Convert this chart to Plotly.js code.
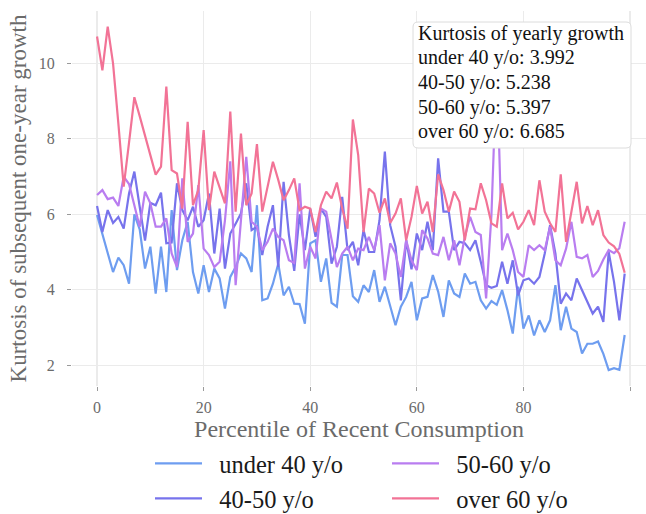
<!DOCTYPE html>
<html>
<head>
<meta charset="utf-8">
<script src="https://cdn.plot.ly/plotly-3.0.1.min.js"></script>
<style>
  html, body { margin: 0; padding: 0; background: #ffffff; }
  #chart { width: 646px; height: 514px; }
</style>
</head>
<body>
<div id="chart"></div>
<script>
// Percentile bins of recent consumption
const percentile = [
  0, 1, 2, 3, 4, 5, 6, 7, 8, 9, 10, 11, 12, 13, 14, 15, 16, 17, 18, 19,
  20, 21, 22, 23, 24, 25, 26, 27, 28, 29, 30, 31, 32, 33, 34, 35, 36, 37, 38, 39,
  40, 41, 42, 43, 44, 45, 46, 47, 48, 49, 50, 51, 52, 53, 54, 55, 56, 57, 58, 59,
  60, 61, 62, 63, 64, 65, 66, 67, 68, 69, 70, 71, 72, 73, 74, 75, 76, 77, 78, 79,
  80, 81, 82, 83, 84, 85, 86, 87, 88, 89, 90, 91, 92, 93, 94, 95, 96, 97, 98, 99
];

// Kurtosis of subsequent one-year growth, by age group
const under40 = [
  5.98, 5.49, 4.96, 4.47, 4.85, 4.65, 4.16, 6.00, 5.60, 4.56,
  5.14, 3.90, 5.14, 3.94, 6.11, 4.52, 5.31, 5.80, 4.47, 3.90,
  4.65, 3.94, 4.56, 4.30, 3.50, 4.34, 4.60, 4.96, 4.83, 4.47,
  6.24, 3.72, 3.77, 4.16, 4.69, 3.85, 4.08, 3.63, 3.62, 3.10,
  5.23, 5.31, 4.21, 4.83, 3.65, 3.55, 4.92, 4.92, 3.83, 3.68,
  4.12, 3.94, 4.52, 3.68, 4.08, 3.59, 3.06, 3.55, 3.81, 4.21,
  3.19, 3.77, 3.81, 4.39, 3.95, 3.28, 4.25, 3.90, 3.81, 4.43,
  4.16, 4.21, 3.72, 3.50, 3.70, 3.60, 3.99, 3.46, 2.84, 4.08,
  2.97, 3.32, 2.79, 3.19, 2.88, 3.19, 4.12, 2.93, 3.55, 2.97,
  2.88, 2.31, 2.57, 2.57, 2.63, 2.30, 1.87, 1.92, 1.88, 2.80
];
const age40to50 = [
  6.22, 5.53, 6.11, 5.77, 5.93, 5.62, 6.55, 7.13, 6.20, 5.30,
  6.30, 6.24, 6.57, 5.23, 5.25, 6.82, 6.11, 5.84, 6.20, 5.67,
  5.84, 6.55, 4.96, 6.15, 4.56, 5.49, 5.75, 6.02, 6.82, 5.58,
  5.67, 4.92, 5.67, 6.24, 4.60, 6.86, 5.45, 4.50, 6.00, 5.05,
  6.15, 5.40, 6.15, 5.93, 4.69, 5.14, 6.46, 5.05, 5.27, 4.65,
  5.58, 5.00, 5.00, 5.84, 7.66, 5.71, 5.14, 3.72, 5.31, 4.54,
  5.49, 5.05, 5.80, 5.05, 7.48, 6.07, 6.07, 5.05, 5.27, 5.23,
  5.05, 5.31, 4.74, 4.12, 4.05, 4.10, 4.74, 4.16, 4.78, 3.85,
  4.25, 4.30, 4.16, 4.34, 4.96, 5.71, 4.96, 3.63, 3.90, 3.72,
  4.30, 3.99, 3.68, 3.37, 3.55, 3.15, 5.00, 4.21, 3.19, 4.43
];
const age50to60 = [
  6.51, 6.64, 6.40, 6.44, 6.22, 7.00, 6.80, 6.20, 5.67, 6.60,
  6.29, 5.67, 5.67, 5.89, 4.96, 4.60, 6.95, 5.27, 5.49, 6.77,
  5.09, 4.92, 4.60, 4.74, 5.84, 7.40, 4.12, 5.84, 7.52, 5.80,
  5.67, 5.05, 5.27, 5.62, 5.40, 5.31, 4.78, 4.71, 6.82, 4.56,
  5.14, 4.83, 6.15, 6.07, 5.31, 4.60, 4.96, 5.14, 4.78, 5.09,
  5.05, 5.40, 5.05, 5.71, 4.25, 5.23, 4.96, 4.34, 5.31, 4.78,
  4.52, 5.58, 5.36, 4.96, 4.92, 5.40, 4.78, 5.31, 4.65, 5.40,
  5.93, 5.53, 5.45, 3.77, 5.98, 10.00, 5.05, 5.49, 5.05, 4.47,
  4.34, 5.18, 5.05, 5.18, 5.05, 5.67, 4.78, 4.65, 5.09, 5.80,
  4.87, 4.83, 4.92, 4.34, 4.50, 4.80, 5.05, 4.97, 5.10, 5.80
];
const over60 = [
  10.71, 9.81, 10.97, 10.00, 8.40, 6.73, 7.90, 9.10, 8.60, 8.10,
  7.60, 7.05, 7.26, 9.38, 7.17, 7.08, 6.15, 8.45, 6.24, 6.64,
  8.23, 6.11, 7.13, 6.73, 6.29, 8.72, 6.07, 8.14, 6.24, 6.55,
  7.86, 6.07, 6.73, 7.39, 6.91, 6.37, 6.64, 6.95, 6.11, 6.20,
  6.15, 5.53, 6.24, 6.60, 6.42, 6.84, 6.15, 5.62, 8.51, 7.57,
  5.53, 6.68, 6.55, 6.04, 6.42, 5.77, 6.02, 6.42, 5.31, 5.93,
  6.75, 6.02, 6.33, 5.53, 7.06, 6.64, 6.07, 6.60, 6.33, 5.31,
  6.15, 6.13, 6.82, 6.37, 5.76, 5.67, 6.82, 5.89, 6.04, 5.60,
  5.80, 6.11, 5.71, 6.90, 6.07, 5.76, 5.53, 7.06, 5.27, 6.02,
  6.86, 5.76, 6.22, 5.71, 6.11, 5.45, 5.25, 5.15, 4.95, 4.45
];

const seriesNames = ['under 40 y/o', '40-50 y/o', '50-60 y/o', 'over 60 y/o'];
const seriesValues = [under40, age40to50, age50to60, over60];
const kurtosisOfYearlyGrowth = [3.992, 5.238, 5.397, 6.685];
const boxTitle = 'Kurtosis of yearly growth';

const xTickValues = [0, 20, 40, 60, 80, 100];
const xTickLabels = ['0', '20', '40', '60', '80', ''];
const yTickValues = [2, 4, 6, 8, 10];

// Styling
const lineColors = ['#6E9DF0', '#7773EC', '#B97DF0', '#F27396'];
// legend is filled row by row, so rank entries to read column-wise
const legendRanks = [1, 3, 2, 4];
const FONT = 'Liberation Serif, Times New Roman, serif';
const W = 646, H = 514;
const M = { l: 72, r: 0, t: 11, b: 128, autoexpand: false };
const plotW = W - M.l - M.r, plotH = H - M.t - M.b;
const NBSP = '\u00A0';

const traces = seriesValues.map((vals, i) => ({
  type: 'scatter',
  mode: 'lines',
  x: percentile,
  y: vals,
  name: NBSP + NBSP + seriesNames[i],
  legendrank: legendRanks[i],
  line: { color: lineColors[i], width: 2.2 },
  hoverinfo: 'skip'
}));

// pixel -> paper helpers for the rounded text box
const px2x = px => (px - M.l) / plotW;
const py2y = py => (H - M.b - py) / plotH;
function roundedBox(x0, y0, x1, y1, r) {
  const X = px2x, Y = py2y;
  return 'M' + X(x0 + r) + ',' + Y(y0) +
    ' L' + X(x1 - r) + ',' + Y(y0) +
    ' Q' + X(x1) + ',' + Y(y0) + ' ' + X(x1) + ',' + Y(y0 + r) +
    ' L' + X(x1) + ',' + Y(y1 - r) +
    ' Q' + X(x1) + ',' + Y(y1) + ' ' + X(x1 - r) + ',' + Y(y1) +
    ' L' + X(x0 + r) + ',' + Y(y1) +
    ' Q' + X(x0) + ',' + Y(y1) + ' ' + X(x0) + ',' + Y(y1 - r) +
    ' L' + X(x0) + ',' + Y(y0 + r) +
    ' Q' + X(x0) + ',' + Y(y0) + ' ' + X(x0 + r) + ',' + Y(y0) + ' Z';
}

// one annotation per text line so the line spacing is fixed
const boxLines = [boxTitle].concat(
  seriesNames.map((n, i) => n + ': ' + kurtosisOfYearlyGrowth[i].toFixed(3)));
const boxLineY = [33.5, 58, 82.5, 107, 131.5];
const boxAnnotations = boxLines.map((t, i) => ({
  xref: 'paper',
  yref: 'paper',
  x: px2x(416),
  y: py2y(boxLineY[i]),
  xanchor: 'left',
  yanchor: 'middle',
  align: 'left',
  showarrow: false,
  text: t,
  font: { family: FONT, size: 20, color: '#111111' }
}));

const axisCommon = {
  showgrid: true,
  gridcolor: '#EBEBEB',
  gridwidth: 1.2,
  zeroline: false,
  showline: false,
  ticks: 'outside',
  ticklen: 4,
  tickwidth: 1,
  tickcolor: '#9A9A9A',
  tickfont: { family: FONT, size: 16, color: '#6B6B6B' },
  automargin: false
};

const layout = {
  width: W,
  height: H,
  margin: M,
  paper_bgcolor: '#ffffff',
  plot_bgcolor: '#ffffff',
  font: { family: FONT, color: '#222222' },
  showlegend: true,
  xaxis: Object.assign({}, axisCommon, {
    range: [-4.7, 103],
    tickmode: 'array',
    tickvals: xTickValues,
    ticktext: xTickLabels,
    ticklabelstandoff: 3,
    title: { text: 'Percentile of Recent Consumption', font: { family: FONT, size: 24, color: '#6B6B6B' }, standoff: 3 }
  }),
  yaxis: Object.assign({}, axisCommon, {
    range: [1.45, 11.385],
    tickmode: 'array',
    tickvals: yTickValues,
    ticklabelstandoff: 9,
    title: { text: 'Kurtosis of subsequent one-year growth', font: { family: FONT, size: 23, color: '#6B6B6B' }, standoff: 5 }
  }),
  legend: {
    orientation: 'h',
    x: px2x(150),
    xanchor: 'left',
    y: py2y(441),
    yanchor: 'top',
    xref: 'paper',
    yref: 'paper',
    entrywidth: 175,
    entrywidthmode: 'pixels',
    itemwidth: 47,
    bgcolor: 'rgba(0,0,0,0)',
    font: { family: FONT, size: 24.5, color: '#1A1A1A' }
  },
  shapes: [{
    type: 'path',
    xref: 'paper',
    yref: 'paper',
    layer: 'above',
    path: roundedBox(413, 22, 631, 148, 5),
    fillcolor: '#ffffff',
    line: { color: '#DCDCDC', width: 1 }
  }],
  annotations: boxAnnotations
};

Plotly.newPlot('chart', traces, layout, { displayModeBar: false, staticPlot: true });
</script>
</body>
</html>
